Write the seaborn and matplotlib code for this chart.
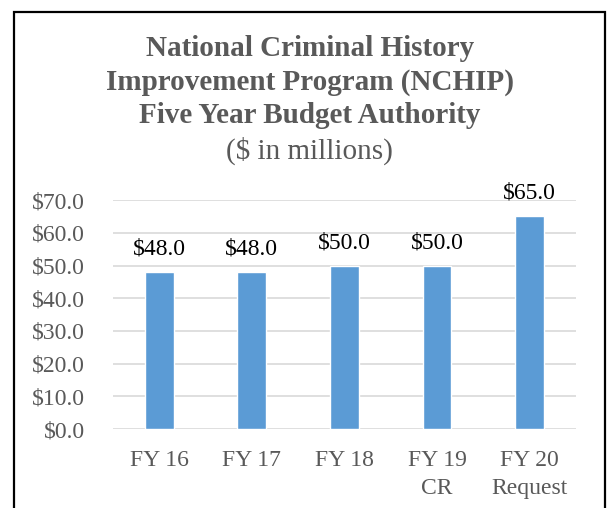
import pandas as pd
import seaborn as sns
import matplotlib.pyplot as plt
from matplotlib.patches import Rectangle

# data
years = ["FY 16", "FY 17", "FY 18", "FY 19\nCR", "FY 20\nRequest"]
budget = [48.0, 48.0, 50.0, 50.0, 65.0]
yticks = [0, 10, 20, 30, 40, 50, 60, 70]

df = pd.DataFrame({"year": years, "budget": budget})

sns.set_theme(style="white")
plt.rcParams["font.family"] = ["Liberation Serif", "DejaVu Serif"]

grey = "#595959"
fig = plt.figure(figsize=(6.1, 5.08), dpi=100)
ax = fig.add_axes([0.185, 0.1555, 0.759, 0.4505])

sns.barplot(data=df, x="year", y="budget", color="#5B9BD5", width=0.31,
            saturation=1, ax=ax, zorder=3)

ax.set_ylim(0, 70)
ax.set_xlim(-0.5, 4.5)
ax.set_yticks(yticks)
ax.set_yticklabels([f"${v:.1f}" for v in yticks])
ax.grid(axis="y", color="#d9d9d9", linewidth=1.2, zorder=0)
ax.set_axisbelow(True)
for s in ax.spines.values():
    s.set_visible(False)
ax.tick_params(axis="both", length=0, labelsize=17, labelcolor=grey)
ax.tick_params(axis="x", pad=15)
ax.tick_params(axis="y", pad=20)
ax.set_xlabel("")
ax.set_ylabel("")
plt.setp(ax.get_xticklabels(), linespacing=1.45)

ax.bar_label(ax.containers[0], labels=[f"${v:.1f}" for v in budget],
             padding=9, fontsize=17, color="black")

# title
fig.text(0.508, 0.838, "National Criminal History\nImprovement Program (NCHIP)\nFive Year Budget Authority",
         ha="center", va="center", fontsize=21, fontweight="bold", color=grey,
         linespacing=1.3)
fig.text(0.508, 0.703, "($ in millions)", ha="center", va="center",
         fontsize=21, color=grey)

# frame around chart
fig.patches.append(Rectangle((14 / 610, -0.1), 591 / 610, 1.1 - 12 / 508,
                             transform=fig.transFigure, fill=False,
                             edgecolor="black", linewidth=1.6))

fig.savefig("out.png", dpi=100)
